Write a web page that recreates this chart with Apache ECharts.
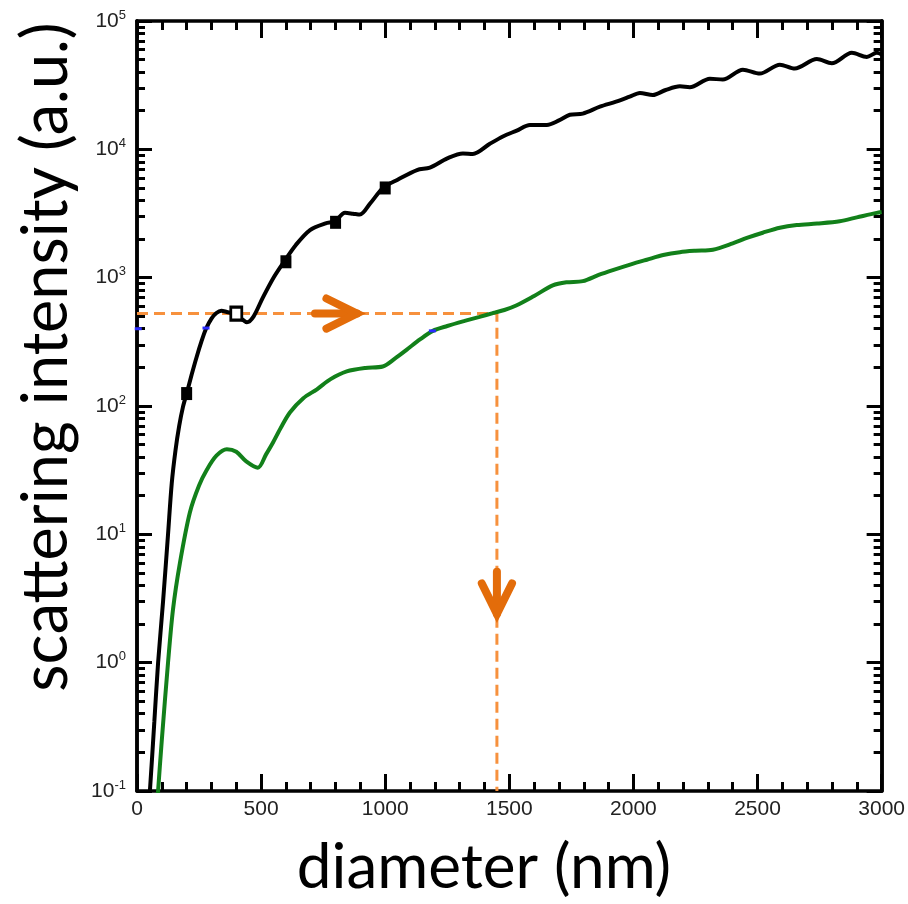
<!DOCTYPE html>
<html style="height: 100%">
<head>
    <meta charset="utf-8">
    <script src="https://cdn.jsdelivr.net/npm/echarts@6/dist/echarts.min.js"></script>
</head>
<body style="height: 100%; margin: 0; background: #fff">
    <div id="container" style="width: 908px; height: 904px"></div>
    <script type="text/javascript">
        // black curve: [diameter nm, intensity]
        var blackCurve = [
            [40, 0.05], [52, 0.1], [70, 0.35], [85, 1], [105, 3], [125, 10], [140, 25], [155, 45],
            [170, 70], [185, 98], [200, 125], [220, 175], [240, 240], [260, 320], [278, 400],
            [300, 480], [320, 530], [340, 552], [362, 540], [391, 525],
            [420, 480], [443, 450], [470, 500], [507, 700], [550, 1000], [592, 1330], [640, 1800],
            [697, 2350], [760, 2650], [797, 2750], [838, 3200], [870, 3150], [898, 3100], [940, 3800],
            [991, 5000], [1050, 5800], [1128, 6900], [1180, 7200], [1250, 8500], [1313, 9300],
            [1353, 9200], [1420, 11000], [1474, 12600], [1530, 14000], [1583, 15500], [1651, 15500],
            [1700, 16800], [1744, 18600], [1796, 19000], [1865, 21500], [1930, 23500], [1985, 25700],
            [2026, 27500], [2078, 26500], [2130, 29000], [2187, 31000], [2227, 30500], [2308, 35500],
            [2360, 35000], [2441, 41700], [2509, 38900], [2590, 45700], [2650, 42600], [2739, 50500],
            [2799, 46800], [2880, 56500], [2940, 52500], [2980, 56500], [3000, 55000]
        ];
        // green curve
        var greenCurve = [
            [75, 0.05], [85, 0.1], [100, 0.25], [125, 1], [145, 2.6], [173, 6], [213, 14.8], [250, 24],
            [282, 32], [320, 41], [362, 46], [400, 44], [440, 37], [487, 33], [520, 42], [548, 52],
            [580, 68], [616, 89], [670, 115], [725, 135], [780, 162], [845, 186], [920, 198],
            [990, 203], [1040, 235], [1087, 275], [1140, 330], [1192, 385], [1250, 420], [1320, 460],
            [1380, 495], [1434, 530], [1480, 560], [1530, 610], [1600, 720], [1675, 870], [1730, 920],
            [1796, 940], [1860, 1050], [1920, 1150], [1990, 1270], [2054, 1380], [2120, 1500],
            [2187, 1580], [2250, 1620], [2320, 1650], [2400, 1850], [2460, 2050], [2521, 2240],
            [2590, 2450], [2658, 2570], [2740, 2640], [2831, 2750], [2900, 2950], [2980, 3200], [3000, 3250]
        ];
        // measured points on black curve (second one drawn open)
        var blackMarkers = [[200, 125], [400, 525], [600, 1330], [800, 2700], [1000, 5000]];
        var openMarker = 1;
        // small blue marks
        var bluePoints = [[5, 400], [278, 405], [1190, 385]];
        // orange guide: across at the black level, then down to the axis
        var guidePath = [[0, 525], [1450, 525], [1450, 0.1]];
        // arrows: [x tail, y tail, x tip, y tip]
        var arrows = [[717, 525, 886, 525], [1450, 5.1, 1450, 2.4]];

        var yMajor = [0.1, 1, 10, 100, 1000, 10000, 100000];
        var yMinor = [];
        yMajor.slice(0, -1).forEach(function (p) {
            for (var k = 2; k <= 9; k++) yMinor.push(+(p * k).toPrecision(3));
        });

        var dom = document.getElementById('container');
        var myChart = echarts.init(dom);

        var frame = { show: true, lineStyle: { color: '#000', width: 3.5 } };
        var labelFont = 'Liberation Sans, Arial, sans-serif';

        function yAxisDef(pos, ticks, len, withLabel) {
            return {
                type: 'log',
                logBase: 10,
                min: 0.1,
                max: 100000,
                position: pos,
                axisLine: frame,
                axisTick: { show: true, inside: true, length: len, customValues: ticks, lineStyle: { color: '#000', width: 3 } },
                axisLabel: withLabel ? {
                    show: true,
                    customValues: yMajor,
                    margin: 11,
                    formatter: function (v) {
                        return '{b|10}{s|' + Math.round(Math.log10(v)) + '}';
                    },
                    rich: {
                        b: { fontSize: 21, fontFamily: labelFont, color: '#222' },
                        s: { fontSize: 13, fontFamily: labelFont, color: '#222', verticalAlign: 'top', padding: [0, 0, 12, 0] }
                    }
                } : { show: false },
                splitLine: { show: false }
            };
        }

        function xAxisDef(pos, withLabel) {
            return {
                type: 'value',
                min: 0,
                max: 3000,
                interval: 500,
                position: pos,
                axisLine: frame,
                axisTick: { show: true, inside: true, length: 17, lineStyle: { color: '#000', width: 3 } },
                minorTick: { show: true, splitNumber: 5, length: 9, lineStyle: { color: '#000', width: 3 } },
                axisLabel: withLabel ? {
                    show: true, fontSize: 21, fontFamily: labelFont, color: '#222', margin: 8,
                    formatter: function (v) { return String(v); }
                } : { show: false },
                splitLine: { show: false }
            };
        }

        var markerData = blackMarkers.map(function (p, i) {
            if (i === openMarker) {
                return { value: p, itemStyle: { color: '#fff', borderColor: '#000', borderWidth: 3 } };
            }
            return p;
        });

        var option = {
            animation: false,
            backgroundColor: '#fff',
            grid: { left: 137, right: 26, top: 21, bottom: 113 },
            xAxis: [xAxisDef('bottom', true), xAxisDef('top', false)],
            yAxis: [
                yAxisDef('left', yMajor, 15, true),
                yAxisDef('left', yMinor, 8, false),
                yAxisDef('right', yMajor, 15, false),
                yAxisDef('right', yMinor, 8, false)
            ],
            graphic: [
                {
                    type: 'text',
                    x: 47, y: 357,
                    rotation: Math.PI / 2,
                    style: {
                        text: 'scattering intensity (a.u.)',
                        font: '63px Lato, sans-serif',
                        fill: '#000',
                        textAlign: 'center',
                        textVerticalAlign: 'middle'
                    }
                },
                {
                    type: 'text',
                    x: 484, y: 868,
                    style: {
                        text: 'diameter (nm)',
                        font: '62px Lato, sans-serif',
                        fill: '#000',
                        textAlign: 'center',
                        textVerticalAlign: 'middle'
                    }
                }
            ],
            series: [
                {
                    type: 'line',
                    data: guidePath,
                    showSymbol: false,
                    lineStyle: { color: '#F7913D', width: 3, type: [11, 6] },
                    z: 1
                },
                {
                    type: 'line',
                    data: greenCurve,
                    showSymbol: false,
                    smooth: 0.3,
                    lineStyle: { color: '#12801A', width: 4 },
                    z: 2
                },
                {
                    type: 'line',
                    data: blackCurve,
                    showSymbol: false,
                    smooth: 0.3,
                    lineStyle: { color: '#000', width: 4 },
                    z: 3
                },
                {
                    type: 'scatter',
                    data: markerData,
                    symbol: 'rect',
                    symbolSize: [11, 13],
                    itemStyle: { color: '#000', opacity: 1 },
                    z: 4
                },
                {
                    type: 'scatter',
                    data: bluePoints,
                    symbol: 'rect',
                    symbolSize: [7, 3],
                    itemStyle: { color: '#2a2aff', opacity: 1 },
                    z: 5
                },
                {
                    type: 'custom',
                    data: arrows,
                    z: 6,
                    renderItem: function (params, api) {
                        var a = api.coord([api.value(0), api.value(1)]);
                        var b = api.coord([api.value(2), api.value(3)]);
                        var ang = Math.atan2(b[1] - a[1], b[0] - a[0]);
                        var L = 34, spread = 0.46;
                        var p1 = [b[0] - L * Math.cos(ang - spread), b[1] - L * Math.sin(ang - spread)];
                        var p2 = [b[0] - L * Math.cos(ang + spread), b[1] - L * Math.sin(ang + spread)];
                        var st = { stroke: '#E36C0A', lineWidth: 8, fill: null, lineCap: 'round', lineJoin: 'miter' };
                        return {
                            type: 'group',
                            children: [
                                { type: 'polyline', shape: { points: [a, b] }, style: st },
                                { type: 'polyline', shape: { points: [p1, b, p2] }, style: st }
                            ]
                        };
                    }
                }
            ]
        };

        if (option && typeof option === 'object') {
            myChart.setOption(option);
        }
    </script>
</body>
</html>
